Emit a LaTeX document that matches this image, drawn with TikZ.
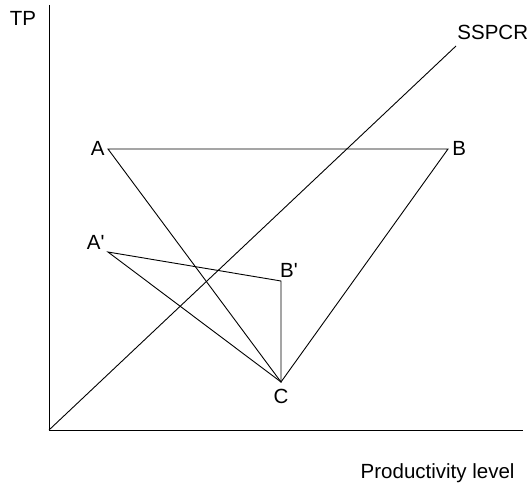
\documentclass[tikz,border=0pt]{standalone}
\usepackage{fontspec}
\setmainfont{Liberation Sans}
\begin{document}
\begin{tikzpicture}[x=1pt, y=-1pt, line width=0.9pt,
		every node/.style={font=\fontsize{20.5}{24}\selectfont, inner sep=1pt},
		lbl/.style={anchor=east}]
	\useasboundingbox (0,0) rectangle (529,487);
	% ------------------ axes ------------------
	\coordinate (O) at (49,430);
	\coordinate (ytop) at (49,5);
	\coordinate (xend) at (523,430);
	\draw (ytop) -- (O) -- (xend);
	\node (tp) at (23,18) {TP};
	\node[anchor=east] (prod) at (516,473) {Productivity level};
	
	% ------------------ SSPCR line ------------------
	\coordinate (send) at (456,46);
	\draw (O) -- (send);
	\node[anchor=west] (sspcr) at (456,32) {SSPCR};
	
	% ------------------ vertices ------------------
	\coordinate (A) at (108,149);
	\coordinate (B) at (448,149);
	\coordinate (A') at (108,252);
	\coordinate (B') at (281,281);
	\coordinate (C) at (281,382);
	
	\node[lbl] (la) at (106,148) {A};
	\node[anchor=west] (lb) at (451,148) {B};
	\node[lbl] (la') at (106,242) {A\textquotesingle};
	\node (lb') at (289,270) {B\textquotesingle};
	\node (lc) at (281,396) {C};
	
	% ------------------ triangles ------------------
	\draw (A) -- (B) -- (C) -- cycle;
	\draw (A') -- (B') -- (C) -- cycle;
\end{tikzpicture}
\end{document}
